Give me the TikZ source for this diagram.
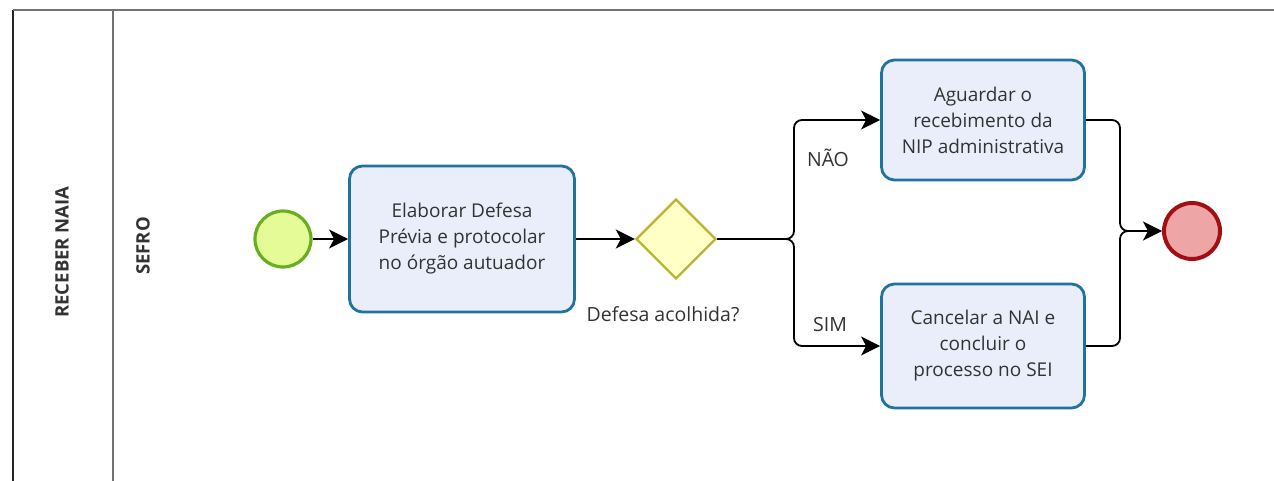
\documentclass[tikz,border=0pt]{standalone}
\usepackage{fontspec}
\setmainfont{Open Sans}
\usetikzlibrary{arrows.meta,shapes.geometric}
\definecolor{taskfill}{HTML}{EAEEFB}
\definecolor{taskline}{HTML}{1F73A0}
\definecolor{startfill}{HTML}{E4FB98}
\definecolor{startline}{HTML}{68AE1E}
\definecolor{gwfill}{HTML}{FFFFC6}
\definecolor{gwline}{HTML}{B8B531}
\definecolor{endfill}{HTML}{EDA5A5}
\definecolor{endline}{HTML}{A30E14}
\definecolor{txt}{HTML}{333333}
\tikzset{
  task/.style={draw=taskline, line width=2.8pt, fill=taskfill, rounded corners=13pt,
    text=txt, align=center, font=\fontsize{19}{26}\selectfont, inner sep=0pt},
  startev/.style={circle, draw=startline, line width=3.2pt, fill=startfill, minimum size=56pt, inner sep=0pt},
  endev/.style={circle, draw=endline, line width=4pt, fill=endfill, minimum size=56pt, inner sep=0pt},
  gateway/.style={diamond, draw=gwline, line width=2.4pt, fill=gwfill, minimum size=80pt, inner sep=0pt},
  wire/.style={line width=1.8pt, black},
  flow/.style={wire, -{Stealth[length=19pt,width=19pt,inset=5pt]}},
  lbl/.style={text=txt, font=\fontsize{19.5}{22}\selectfont},
  lanelbl/.style={text=txt, font=\bfseries\fontsize{18.5}{22}\selectfont, rotate=90}
}
\begin{document}
\begin{tikzpicture}[x=1pt,y=-1pt]
\useasboundingbox (0,0) rectangle (1274,481);
% pool and lane borders
\draw[line width=2pt, draw=black!85] (13,481) -- (13,10);
\draw[line width=2pt, draw=black!55] (13,10) -- (1274,10);
\draw[line width=2pt, draw=black!55] (113,10) -- (113,481);
\node[lanelbl] (pool) at (62,252) {RECEBER NAIA};
\node[lanelbl] (lane) at (143,246) {SEFRO};
% flow elements
\node[startev] (start) at (283,239) {};
\node[task, minimum width=225pt, minimum height=146pt] (elab) at (462,239)
  {Elaborar Defesa\\Prévia e protocolar\\no órgão autuador};
\node[gateway] (gw) at (676,239) {};
\node[lbl] (gwlbl) at (663,314) {Defesa acolhida?};
\node[task, minimum width=203pt, minimum height=120pt] (wait) at (983,120)
  {Aguardar o\\recebimento da\\NIP administrativa};
\node[task, minimum width=203pt, minimum height=124pt] (cancel) at (983,346)
  {Cancelar a NAI e\\concluir o\\processo no SEI};
\node[endev] (end) at (1192,231) {};
\node[lbl] (nao) at (828,158) {NÃO};
\node[lbl] (sim) at (830,325) {SIM};
% split and join points
\coordinate (split) at (786,239);
\coordinate (join) at (1128,231);
% connectors
\draw[flow] (start) -- (elab);
\draw[flow] (elab) -- (gw);
\draw[wire] (gw.east) -- (split);
\draw[flow, rounded corners=8pt] (split) -- ++(8,0) |- (wait.west);
\draw[flow, rounded corners=8pt] (split) -- ++(8,0) |- (cancel.west);
\draw[wire, rounded corners=8pt] (wait.east) -| ([xshift=-8pt]join) -- (join);
\draw[wire, rounded corners=8pt] (cancel.east) -| ([xshift=-8pt]join) -- (join);
\draw[flow] (join) -- (end);
\end{tikzpicture}
\end{document}
